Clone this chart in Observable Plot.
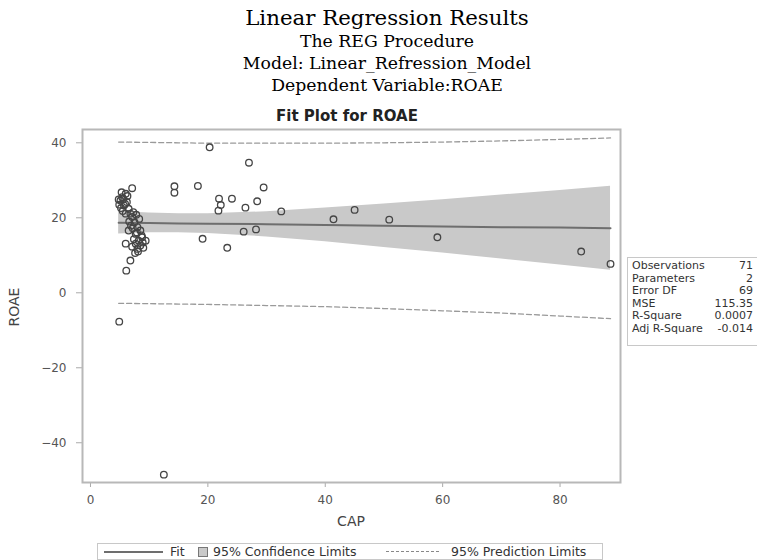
<!DOCTYPE html>
<html><head><meta charset="utf-8">
<script src="https://cdn.jsdelivr.net/npm/d3@7"></script>
<script src="https://cdn.jsdelivr.net/npm/@observablehq/plot@0.6"></script>
<style>
html,body{margin:0;padding:0;background:#fff;}
body{width:757px;height:560px;overflow:hidden;position:relative;font-family:"DejaVu Sans",sans-serif;}
.t{position:absolute;left:0;width:774px;text-align:center;font-family:"DejaVu Serif",serif;color:#000;white-space:nowrap;}
.abs{position:absolute;white-space:nowrap;}
#chart{position:absolute;left:0;top:104px;}
#stats{position:absolute;left:627px;top:257px;width:140px;height:87px;border:1px solid #c8c8c8;font-size:11px;color:#333;}
#stats div{position:absolute;left:4px;width:121px;height:12.5px;line-height:12.5px;}
#stats span.v{position:absolute;right:0;}
#legend{position:absolute;left:97px;top:543px;width:504px;height:15px;border:1px solid #c8c8c8;font-size:12.5px;color:#333;}
#legend .abs{top:0;line-height:15px;}
</style></head>
<body>
<div class="t" style="top:7px;font-size:21.3px;line-height:21.3px;">Linear Regression Results</div>
<div class="t" style="top:33.4px;font-size:17.3px;line-height:17.3px;">The REG Procedure</div>
<div class="t" style="top:55.4px;font-size:17.3px;line-height:17.3px;">Model: Linear_Refression_Model</div>
<div class="t" style="top:77.4px;font-size:17.3px;line-height:17.3px;">Dependent Variable:ROAE</div>
<div class="abs" style="left:0;width:694px;text-align:center;top:108px;font-size:15px;line-height:16px;font-weight:bold;color:#222;">Fit Plot for ROAE</div>
<div id="chart"></div>
<div class="abs" style="left:14px;top:307px;font-size:14px;color:#444;transform:translate(-50%,-50%) rotate(-90deg);">ROAE</div>
<div class="abs" style="left:351px;top:521px;font-size:14px;color:#444;transform:translate(-50%,-50%);">CAP</div>
<div id="stats"></div>
<div id="legend">
  <div class="abs" style="left:6px;top:7px;width:59px;height:0;border-top:2px solid #6e6e6e;"></div>
  <div class="abs" style="left:72px;">Fit</div>
  <div class="abs" style="left:100px;top:3px;width:8px;height:8px;background:#c9c9c9;border:1px solid #777;"></div>
  <div class="abs" style="left:115px;">95% Confidence Limits</div>
  <div class="abs" style="left:288px;top:7px;width:53px;height:0;border-top:1px dashed #888;"></div>
  <div class="abs" style="left:353px;">95% Prediction Limits</div>
</div>
<script>
// Observed data (CAP, ROAE)
const capValues = [20.3,27.0,14.3,14.3,18.3,29.5,21.9,24.1,22.2,21.8,28.4,26.4,32.5,26.1,28.2,19.1,23.3,41.4,45.0,50.9,59.1,83.6,88.6,12.5,4.9,
  7.1,6.0,5.4,5.1,4.9,5.7,6.2,6.5,6.0,6.8,7.1,8.3,7.5,6.9,8.0,8.5,6.5,7.7,8.8,8.2,9.4,7.7,8.5,8.0,8.1,6.0,6.8,6.1,
  5.3,5.6,4.8,5.9,5.2,6.3,5.5,7.3,7.8,6.6,7.2,7.9,8.7,7.4,8.9,7.1,9.0,7.6];
const roaeValues = [38.8,34.7,28.4,26.7,28.5,28.1,25.1,25.1,23.4,21.9,24.4,22.7,21.7,16.3,16.9,14.4,12.0,19.6,22.1,19.5,14.8,11.0,7.7,-48.5,-7.7,
  27.9,26.4,25.5,24.6,23.5,23.3,24.2,22.4,21.1,21.1,20.2,19.7,18.8,17.9,17.5,16.6,16.6,15.7,14.8,13.9,13.9,13.1,12.6,11.7,11.0,13.1,8.6,5.9,
  26.8,25.0,24.9,23.7,22.6,25.8,21.8,21.5,20.8,19.0,17.2,16.1,15.3,14.3,13.4,12.3,12.0,10.6];

// Fit line, 95% confidence band and 95% prediction limits
const bandCap   = [4.8, 10, 15, 20, 30, 40, 50, 60, 70, 80, 88.6];
const fitRoae   = [18.7, 18.6, 18.5, 18.4, 18.3, 18.1, 17.9, 17.7, 17.5, 17.4, 17.2];
const confLower = [15.7, 16.0, 16.0, 15.8, 14.9, 13.6, 12.1, 10.6, 9.0, 7.4, 6.0];
const confUpper = [21.7, 21.3, 21.1, 21.1, 21.6, 22.6, 23.7, 24.8, 26.1, 27.3, 28.4];
const predLower = [-2.8, -2.9, -3.0, -3.1, -3.4, -3.7, -4.2, -4.8, -5.4, -6.2, -6.9];
const predUpper = [40.2, 40.1, 40.0, 39.9, 39.9, 39.9, 40.0, 40.2, 40.5, 40.9, 41.3];

const xTicks = [0, 20, 40, 60, 80];
const yTicks = [-40, -20, 0, 20, 40];

const statLabels = ["Observations","Parameters","Error DF","MSE","R-Square","Adj R-Square"];
const statValues = ["71","2","69","115.35","0.0007","-0.014"];

const points = capValues.map((c, i) => ({cap: c, roae: roaeValues[i]}));
const band = bandCap.map((c, i) => ({cap: c, fit: fitRoae[i], lo: confLower[i], hi: confUpper[i], plo: predLower[i], phi: predUpper[i]}));

const chart = Plot.plot({
  width: 757, height: 430,
  marginLeft: 82, marginRight: 137, marginTop: 25, marginBottom: 52,
  x: {domain: [-1.36, 90.3]},
  y: {domain: [-50.6, 43.55]},
  style: {fontFamily: "DejaVu Sans, sans-serif", fontSize: "12px", color: "#555", background: "transparent", overflow: "visible"},
  marks: [
    Plot.areaY(band, {x: "cap", y1: "lo", y2: "hi", fill: "#c9c9c9"}),
    Plot.lineY(band, {x: "cap", y: "fit", stroke: "#6e6e6e", strokeWidth: 2}),
    Plot.lineY(band, {x: "cap", y: "plo", stroke: "#9a9a9a", strokeWidth: 1.3, strokeDasharray: "5,3"}),
    Plot.lineY(band, {x: "cap", y: "phi", stroke: "#9a9a9a", strokeWidth: 1.3, strokeDasharray: "5,3"}),
    Plot.dot(points, {x: "cap", y: "roae", r: 3.3, stroke: "#454545", strokeWidth: 1.3, fill: "none"}),
    Plot.axisX(xTicks, {tickSize: 5, tickPadding: 8, label: null, stroke: "#aaa", fill: "#555", fontSize: 12}),
    Plot.axisY(yTicks, {tickSize: 6, tickPadding: 10, label: null, stroke: "#aaa", fill: "#555", fontSize: 12}),
    Plot.frame({stroke: "#b8b8b8", strokeWidth: 2})
  ]
});
document.getElementById("chart").appendChild(chart);

const stats = document.getElementById("stats");
statLabels.forEach((lab, i) => {
  const row = document.createElement("div");
  row.style.top = (2 + i * 12.5) + "px";
  row.innerHTML = `<span>${lab}</span><span class="v">${statValues[i]}</span>`;
  stats.appendChild(row);
});
</script>
</body></html>
